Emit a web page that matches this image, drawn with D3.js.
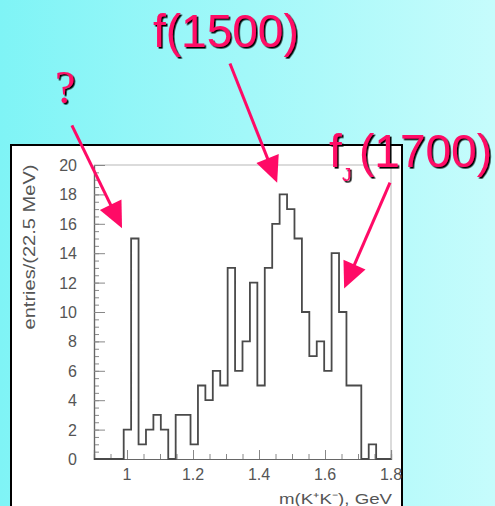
<!DOCTYPE html>
<html>
<head>
<meta charset="utf-8">
<script src="https://cdn.jsdelivr.net/npm/d3@7"></script>
<style>
  html, body { margin: 0; padding: 0; background: #fff; }
  svg { display: block; }
</style>
</head>
<body>
<svg id="chart" width="495" height="506"></svg>
<script>
// K+K- invariant mass histogram, 22.5 MeV bins starting at 0.9 GeV
const binStart = 0.9;
const binWidth = 0.0225;
const counts = [
  0, 0, 0, 0, 2, 15, 1, 2, 3, 2,
  0, 3, 3, 1, 5, 4, 6, 5, 13, 6,
  8, 12, 5, 13, 16, 18, 17, 15, 10, 7,
  8, 6, 14, 10, 5, 5, 0, 1, 0, 0
];

const xTicks = [1, 1.2, 1.4, 1.6, 1.8];
const xTickLabels = ["1", "1.2", "1.4", "1.6", "1.8"];
const yTicks = [0, 2, 4, 6, 8, 10, 12, 14, 16, 18, 20];
const yTickLabels = ["0", "2", "4", "6", "8", "10", "12", "14", "16", "18", "20"];

const xTitle = "m(K\u207AK\u207B), GeV";
const yTitle = "entries/(22.5 MeV)";

// resonance call-outs: arrow tail and tip in (mass, entries) units
const calloutNames = ["?", "f(1500)", "fJ(1700)"];
const calloutTails = [[0.833, 22.7], [1.312, 26.9], [1.797, 18.8]];
const calloutTips  = [[0.985, 15.7], [1.455, 18.8], [1.658, 11.6]];

const W = 495, H = 506;
const svg = d3.select("#chart");
const pink = "#ff0a66";

// slide background
const defs = svg.append("defs");
const grad = defs.append("linearGradient").attr("id", "bg")
  .attr("x1", 0).attr("y1", 0).attr("x2", 1).attr("y2", 0);
grad.append("stop").attr("offset", 0).attr("stop-color", "#7ff4f6");
grad.append("stop").attr("offset", 1).attr("stop-color", "#c6fcfc");
svg.append("rect").attr("width", W).attr("height", H).attr("fill", "url(#bg)");

// dark drop shadow for the call-out labels
defs.append("filter").attr("id", "shadow")
  .attr("x", "-10%").attr("y", "-10%").attr("width", "130%").attr("height", "130%")
  .append("feDropShadow")
  .attr("dx", 1.6).attr("dy", 1.6).attr("stdDeviation", 0.3)
  .attr("flood-color", "#000").attr("flood-opacity", 1);

// white panel holding the plot
const panel = { x: 11, y: 145, w: 391, h: 400 };
defs.append("clipPath").attr("id", "panelClip").append("rect")
  .attr("x", panel.x).attr("y", panel.y).attr("width", panel.w).attr("height", panel.h);
svg.append("rect")
  .attr("x", panel.x).attr("y", panel.y).attr("width", panel.w).attr("height", panel.h)
  .attr("fill", "#fff").attr("stroke", "#000").attr("stroke-width", 2);

const g = svg.append("g").attr("clip-path", "url(#panelClip)");

const x = d3.scaleLinear().domain([0.9, 1.8]).range([94, 391]);
const y = d3.scaleLinear().domain([0, 20]).range([459, 165]);

const font = "'Liberation Sans', Arial, Helvetica, sans-serif";
const axisGray = "#666";
const textGray = "#555";

// frame: light top and right edges
g.append("line").attr("x1", x(0.9)).attr("x2", x(1.8)).attr("y1", y(20)).attr("y2", y(20))
  .attr("stroke", "#cfcfcf").attr("stroke-width", 1.5);
g.append("line").attr("x1", x(1.8)).attr("x2", x(1.8)).attr("y1", y(20)).attr("y2", y(0))
  .attr("stroke", "#cfcfcf").attr("stroke-width", 1.5);

// y axis: major ticks every 2, minor every 0.5, pointing inward
const yAxisMinor = d3.axisRight(y).tickValues(d3.range(0, 20.01, 0.5))
  .tickSize(5).tickFormat("");
const yAxisMajor = d3.axisRight(y).tickValues(yTicks).tickSize(11).tickFormat("");
[yAxisMinor, yAxisMajor].forEach(ax => {
  const a = g.append("g").attr("transform", `translate(${x(0.9)},0)`).call(ax);
  a.select(".domain").attr("stroke", axisGray).attr("stroke-width", 1.2);
  a.selectAll(".tick line").attr("stroke", "#888");
});
g.append("g").selectAll("text").data(yTicks).join("text")
  .attr("x", 77).attr("y", d => y(d) + 6)
  .attr("text-anchor", "end")
  .attr("font-family", font).attr("font-size", 16).attr("fill", textGray)
  .text((d, i) => yTickLabels[i]);

// x axis: major ticks at labels, minor every 0.05, pointing inward
const xAxisMinor = d3.axisTop(x).tickValues(d3.range(0.9, 1.801, 0.05))
  .tickSize(5).tickFormat("");
const xAxisMajor = d3.axisTop(x).tickValues(xTicks).tickSize(9).tickFormat("");
[xAxisMinor, xAxisMajor].forEach(ax => {
  const a = g.append("g").attr("transform", `translate(0,${y(0)})`).call(ax);
  a.select(".domain").attr("stroke", axisGray).attr("stroke-width", 1.2);
  a.selectAll(".tick line").attr("stroke", "#888");
});
g.append("g").selectAll("text").data(xTicks).join("text")
  .attr("x", d => x(d)).attr("y", 480)
  .attr("text-anchor", "middle")
  .attr("font-family", font).attr("font-size", 16).attr("fill", textGray)
  .text((d, i) => xTickLabels[i]);

// axis titles
g.append("text")
  .attr("transform", `translate(35,${(y(20) + y(0)) / 2 - 65}) rotate(-90)`)
  .attr("text-anchor", "middle")
  .attr("font-family", font).attr("font-size", 16).attr("fill", textGray)
  .attr("textLength", 165).attr("lengthAdjust", "spacingAndGlyphs")
  .text(yTitle);
g.append("text")
  .attr("x", 392).attr("y", 504).attr("text-anchor", "end")
  .attr("font-family", font).attr("font-size", 15).attr("fill", textGray)
  .attr("textLength", 113).attr("lengthAdjust", "spacingAndGlyphs")
  .text(xTitle);

// histogram outline as a step path
const pts = [[binStart, 0]];
counts.forEach((c, i) => {
  const lo = binStart + i * binWidth, hi = lo + binWidth;
  pts.push([lo, c], [hi, c]);
});
pts.push([binStart + counts.length * binWidth, 0]);
g.append("path")
  .attr("d", d3.line().x(d => x(d[0])).y(d => y(d[1]))(pts))
  .attr("fill", "none").attr("stroke", "#4a4a4a").attr("stroke-width", 1.8)
  .attr("stroke-linejoin", "miter");

// call-out arrows
const headLen = 26, headHalf = 12;
calloutTails.forEach((t, i) => {
  const x0 = x(t[0]), y0 = y(t[1]);
  const x1 = x(calloutTips[i][0]), y1 = y(calloutTips[i][1]);
  const L = Math.hypot(x1 - x0, y1 - y0);
  const ux = (x1 - x0) / L, uy = (y1 - y0) / L;
  const bx = x1 - ux * headLen, by = y1 - uy * headLen;
  svg.append("line").attr("x1", x0).attr("y1", y0).attr("x2", bx + ux * 2).attr("y2", by + uy * 2)
    .attr("stroke", pink).attr("stroke-width", 3);
  svg.append("polygon")
    .attr("points", [[x1, y1], [bx - uy * headHalf, by + ux * headHalf], [bx + uy * headHalf, by - ux * headHalf]]
      .map(p => p.join(",")).join(" "))
    .attr("fill", pink);
});

// call-out labels
const serif = "'Liberation Serif', 'Times New Roman', serif";
const labels = svg.append("g").attr("fill", pink).attr("filter", "url(#shadow)");
labels.append("text").attr("x", 55).attr("y", 103)
  .attr("font-family", serif).attr("font-size", 46).text(calloutNames[0]);
labels.append("text").attr("x", 153).attr("y", 47)
  .attr("font-family", font).attr("font-size", 46).text(calloutNames[1]);
const fj = labels.append("text").attr("x", 329).attr("y", 167)
  .attr("font-family", font).attr("font-size", 46);
fj.append("tspan").text(calloutNames[2].slice(0, 1));
fj.append("tspan").attr("x", 342).attr("y", 181).attr("font-size", 19).text(calloutNames[2].slice(1, 2));
fj.append("tspan").attr("x", 359).attr("y", 167).text(calloutNames[2].slice(2));
</script>
</body>
</html>
